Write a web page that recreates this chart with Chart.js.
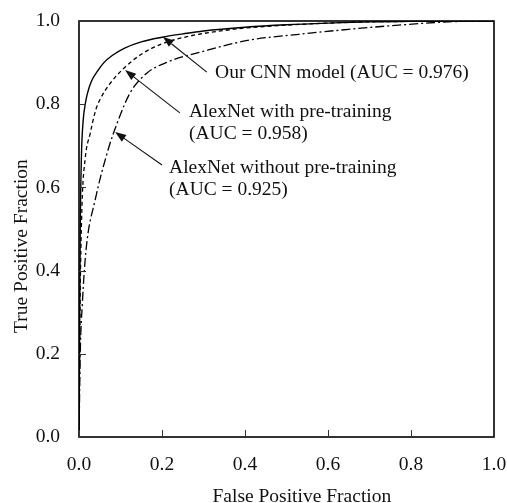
<!DOCTYPE html>
<html>
<head>
<meta charset="utf-8">
<script src="https://cdn.jsdelivr.net/npm/chart.js@4.4.1/dist/chart.umd.min.js"></script>
<style>
  html, body { margin: 0; padding: 0; background: #fff; }
  #wrap { width: 507px; height: 503px; }
</style>
</head>
<body>
<div id="wrap"><canvas id="rocChart"></canvas></div>
<script>
// tick positions for both axes
const tickValues = [0, 0.2, 0.4, 0.6, 0.8, 1.0];

// Our CNN model (AUC = 0.976)
const cnnFpr = [0, 0.003, 0.006, 0.01, 0.015, 0.02, 0.03, 0.045, 0.06, 0.08, 0.11, 0.15, 0.2, 0.25, 0.3, 0.4, 0.5, 0.6, 0.7, 0.8, 0.9, 1];
const cnnTpr = [0, 0.5, 0.68, 0.76, 0.8, 0.825, 0.855, 0.88, 0.9, 0.917, 0.935, 0.95, 0.961, 0.969, 0.976, 0.985, 0.991, 0.995, 0.998, 0.999, 1, 1];

// AlexNet with pre-training (AUC = 0.958)
const preFpr = [0, 0.003, 0.007, 0.015, 0.027, 0.04, 0.05, 0.075, 0.11, 0.15, 0.2, 0.25, 0.3, 0.4, 0.5, 0.6, 0.7, 0.8, 0.9, 1];
const preTpr = [0, 0.35, 0.55, 0.67, 0.73, 0.785, 0.81, 0.85, 0.888, 0.92, 0.945, 0.96, 0.97, 0.983, 0.99, 0.995, 0.998, 0.999, 1, 1];

// AlexNet without pre-training (AUC = 0.925)
const noPreFpr = [0, 0.003, 0.008, 0.017, 0.039, 0.07, 0.094, 0.123, 0.164, 0.21, 0.31, 0.41, 0.53, 0.65, 0.77, 0.89, 1];
const noPreTpr = [0, 0.2, 0.32, 0.45, 0.57, 0.69, 0.76, 0.827, 0.875, 0.9, 0.93, 0.954, 0.968, 0.98, 0.99, 0.998, 1];

const FONT = '"Liberation Serif", "Times New Roman", serif';
const INK = '#111';

function toPoints(xs, ys) {
    return xs.map((v, i) => ({ x: v, y: ys[i] }));
}

// annotation arrows: head and tail in data units, text lines next to the tail
const notes = [
    { head: [0.202, 0.962], tail: [0.308, 0.877], at: [0.328, 0.875], lines: ['Our CNN model (AUC = 0.976)'] },
    { head: [0.111, 0.882], tail: [0.243, 0.779], at: [0.265, 0.781], lines: ['AlexNet with pre-training', '(AUC = 0.958)'] },
    { head: [0.087, 0.733], tail: [0.200, 0.654], at: [0.217, 0.647], lines: ['AlexNet without pre-training', '(AUC = 0.925)'] }
];

const rocDecor = {
    id: 'rocDecor',
    afterDraw(chart) {
        const { ctx, chartArea: a, scales: { x, y } } = chart;
        ctx.save();

        // frame
        ctx.strokeStyle = '#000';
        ctx.lineWidth = 1.6;
        ctx.strokeRect(a.left, a.top, a.right - a.left, a.bottom - a.top);

        // inward tick marks
        ctx.lineWidth = 1;
        ctx.strokeStyle = '#333';
        ctx.beginPath();
        tickValues.forEach(v => {
            const px = Math.round(x.getPixelForValue(v)) + 0.5;
            ctx.moveTo(px, a.bottom);
            ctx.lineTo(px, a.bottom - 7);
            const py = Math.round(y.getPixelForValue(v)) + 0.5;
            ctx.moveTo(a.left, py);
            ctx.lineTo(a.left + 7, py);
        });
        ctx.stroke();

        // arrows + labels
        ctx.fillStyle = INK;
        ctx.strokeStyle = INK;
        ctx.font = '19.5px ' + FONT;
        ctx.textBaseline = 'middle';
        ctx.textAlign = 'left';
        notes.forEach(n => {
            const hx = x.getPixelForValue(n.head[0]), hy = y.getPixelForValue(n.head[1]);
            const tx = x.getPixelForValue(n.tail[0]), ty = y.getPixelForValue(n.tail[1]);
            const ang = Math.atan2(hy - ty, hx - tx);
            const len = 11, half = 4;
            const bx = hx - len * Math.cos(ang), by = hy - len * Math.sin(ang);
            ctx.lineWidth = 1.1;
            ctx.beginPath();
            ctx.moveTo(tx, ty);
            ctx.lineTo(bx, by);
            ctx.stroke();
            ctx.beginPath();
            ctx.moveTo(hx, hy);
            ctx.lineTo(bx + half * Math.sin(ang), by - half * Math.cos(ang));
            ctx.lineTo(bx - half * Math.sin(ang), by + half * Math.cos(ang));
            ctx.closePath();
            ctx.fill();

            const lx = x.getPixelForValue(n.at[0]);
            const ly = y.getPixelForValue(n.at[1]);
            n.lines.forEach((t, i) => ctx.fillText(t, lx, ly + i * 22));
        });

        // axis titles
        ctx.textAlign = 'center';
        ctx.fillText('False Positive Fraction', x.getPixelForValue(0.537), chart.height - 6);
        ctx.restore();

        ctx.save();
        ctx.fillStyle = INK;
        ctx.font = '19.5px ' + FONT;
        ctx.textAlign = 'center';
        ctx.textBaseline = 'middle';
        ctx.translate(22, y.getPixelForValue(0.459));
        ctx.rotate(-Math.PI / 2);
        ctx.fillText('True Positive Fraction', 0, 0);
        ctx.restore();
    }
};

new Chart(document.getElementById('rocChart'), {
    type: 'scatter',
    data: {
        datasets: [
            {
                label: 'Our CNN model',
                data: toPoints(cnnFpr, cnnTpr),
                borderColor: '#000',
                borderWidth: 1.4
            },
            {
                label: 'AlexNet with pre-training',
                data: toPoints(preFpr, preTpr),
                borderColor: '#000',
                borderWidth: 1.3,
                borderDash: [4, 3]
            },
            {
                label: 'AlexNet without pre-training',
                data: toPoints(noPreFpr, noPreTpr),
                borderColor: '#000',
                borderWidth: 1.3,
                borderDash: [9, 3, 2, 3]
            }
        ]
    },
    options: {
        responsive: true,
        maintainAspectRatio: false,
        animation: false,
        showLine: true,
        elements: {
            point: { radius: 0, hoverRadius: 0 },
            line: { cubicInterpolationMode: 'monotone', fill: false }
        },
        layout: { padding: { left: 0, top: 21, right: 13, bottom: 0 } },
        plugins: {
            legend: { display: false },
            tooltip: { enabled: false }
        },
        scales: {
            x: {
                type: 'linear',
                min: 0,
                max: 1,
                afterBuildTicks: s => { s.ticks = tickValues.map(v => ({ value: v })); },
                afterFit: s => { s.height = 66; s.paddingLeft = 0; s.paddingRight = 0; },
                grid: { display: false, drawTicks: false },
                border: { display: false },
                ticks: {
                    padding: 16,
                    color: INK,
                    font: { family: FONT, size: 19.5 },
                    callback: v => v.toFixed(1)
                }
            },
            y: {
                type: 'linear',
                min: 0,
                max: 1,
                afterBuildTicks: s => { s.ticks = tickValues.map(v => ({ value: v })); },
                afterFit: s => { s.width = 79; s.paddingTop = 0; s.paddingBottom = 0; },
                grid: { display: false, drawTicks: false },
                border: { display: false },
                ticks: {
                    padding: 19,
                    color: INK,
                    font: { family: FONT, size: 19.5 },
                    callback: v => v.toFixed(1)
                }
            }
        }
    },
    plugins: [rocDecor]
});
</script>
</body>
</html>
